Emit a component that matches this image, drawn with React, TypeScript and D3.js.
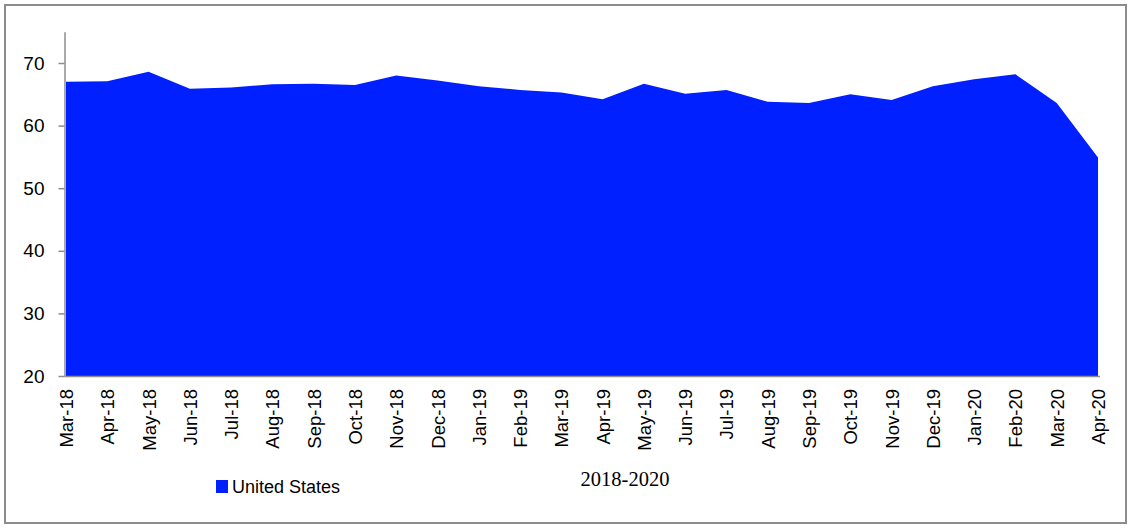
import React, { useRef, useEffect } from "react";
import * as d3 from "d3";

const months = [
  "Mar-18", "Apr-18", "May-18", "Jun-18", "Jul-18", "Aug-18", "Sep-18", "Oct-18",
  "Nov-18", "Dec-18", "Jan-19", "Feb-19", "Mar-19", "Apr-19", "May-19", "Jun-19",
  "Jul-19", "Aug-19", "Sep-19", "Oct-19", "Nov-19", "Dec-19", "Jan-20", "Feb-20",
  "Mar-20", "Apr-20",
];

const usValues = [
  67.0, 67.1, 68.6, 65.9, 66.1, 66.6, 66.7, 66.5, 68.0, 67.2, 66.3, 65.7, 65.3,
  64.2, 66.7, 65.1, 65.7, 63.8, 63.6, 65.0, 64.1, 66.3, 67.4, 68.2, 63.6, 54.9,
];

const yTicks = [20, 30, 40, 50, 60, 70];

const seriesName = "United States";
const xTitle = "2018-2020";

const App: React.FC = () => {
  const ref = useRef<SVGSVGElement | null>(null);

  useEffect(() => {
    if (!ref.current) return;
    const svg = d3.select(ref.current);
    svg.selectAll("*").remove();

    const width = 1130;
    const height = 529;
    const blue = "#0020ff";
    const grey = "#8c8c8c";
    const font = "'Liberation Sans', Arial, sans-serif";

    svg.attr("width", width).attr("height", height);

    // outer frame
    svg
      .append("rect")
      .attr("x", 5)
      .attr("y", 5)
      .attr("width", 1121)
      .attr("height", 518)
      .attr("fill", "white")
      .attr("stroke", grey)
      .attr("stroke-width", 2);

    const x = d3.scalePoint<string>().domain(months).range([66, 1098]);
    const y = d3.scaleLinear().domain([20, 75]).range([376, 31.7]);

    const data = months.map((m, i) => ({ m, v: usValues[i] }));

    const area = d3
      .area<{ m: string; v: number }>()
      .x((d) => x(d.m) || 0)
      .y0(y(20))
      .y1((d) => y(d.v));

    svg.append("path").datum(data).attr("fill", blue).attr("d", area);

    // y axis
    const yAxis = svg
      .append("g")
      .attr("transform", "translate(64.5,0)")
      .call(d3.axisLeft(y).tickValues(yTicks).tickSize(6).tickPadding(14).tickSizeOuter(0));
    yAxis.select(".domain").attr("stroke", grey).attr("stroke-width", 1.5);
    yAxis.selectAll(".tick line").attr("stroke", grey).attr("stroke-width", 1.5);
    yAxis
      .selectAll(".tick text")
      .attr("fill", "#000")
      .style("font-family", font)
      .style("font-size", "19px");

    // x axis
    const xAxis = svg
      .append("g")
      .attr("transform", `translate(0,${y(20)})`)
      .call(d3.axisBottom(x).tickSize(0).tickSizeOuter(0));
    xAxis
      .select(".domain")
      .attr("d", "M64.5,0.5H1100")
      .attr("stroke", grey)
      .attr("stroke-width", 1.5);
    xAxis
      .selectAll(".tick text")
      .attr("transform", "rotate(-90)")
      .attr("text-anchor", "end")
      .attr("x", -13)
      .attr("y", 0)
      .attr("dy", "0.35em")
      .attr("fill", "#000")
      .style("font-family", font)
      .style("font-size", "18.5px");

    // axis title
    svg
      .append("text")
      .attr("x", 625)
      .attr("y", 486)
      .attr("text-anchor", "middle")
      .style("font-family", "'Liberation Serif', serif")
      .style("font-size", "20.5px")
      .text(xTitle);

    // legend
    svg
      .append("rect")
      .attr("x", 216)
      .attr("y", 480)
      .attr("width", 12)
      .attr("height", 13)
      .attr("fill", blue);
    svg
      .append("text")
      .attr("x", 232)
      .attr("y", 493)
      .style("font-family", font)
      .style("font-size", "18px")
      .text(seriesName);
  }, []);

  return (
    <svg
      ref={ref}
      style={{ display: "block", position: "absolute", left: 0, top: 0 }}
    />
  );
};

export default App;
